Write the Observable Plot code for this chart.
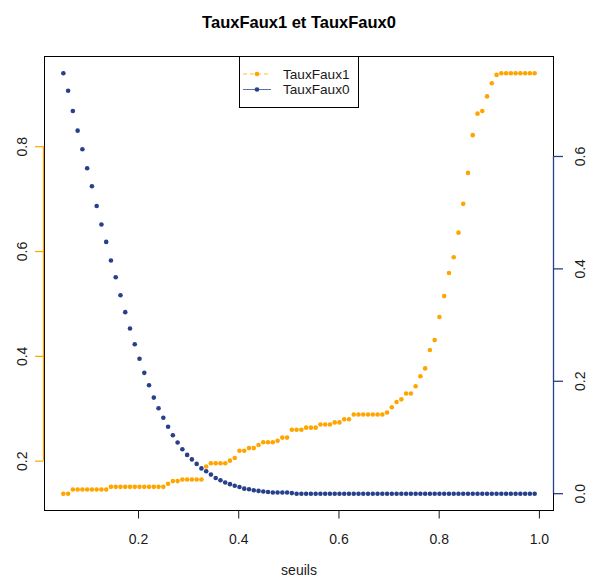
<!DOCTYPE html>
<html>
<head>
<meta charset="utf-8">
<script src="https://cdn.jsdelivr.net/npm/d3@7"></script>
<script src="https://cdn.jsdelivr.net/npm/@observablehq/plot@0.6"></script>
<style>
  html, body { margin: 0; padding: 0; background: #fff; }
  #wrap { position: relative; width: 589px; height: 580px; font-family: "Liberation Sans", Arial, sans-serif; }
  #legend { position: absolute; left: 239px; top: 56px; width: 120px; height: 52px; box-sizing: border-box;
            border: 1px solid #000; background: #fff; }
</style>
</head>
<body>
<div id="wrap"></div>
<script>
const seuils = [
  0.05, 0.0595, 0.069, 0.0785, 0.088, 0.0975, 0.107, 0.1165, 0.126, 0.1355,
  0.145, 0.1545, 0.164, 0.1735, 0.183, 0.1925, 0.202, 0.2115, 0.221, 0.2305,
  0.24, 0.2495, 0.259, 0.2685, 0.278, 0.2875, 0.297, 0.3065, 0.316, 0.3255,
  0.335, 0.3445, 0.354, 0.3635, 0.373, 0.3825, 0.392, 0.4015, 0.411, 0.4205,
  0.43, 0.4395, 0.449, 0.4585, 0.468, 0.4775, 0.487, 0.4965, 0.506, 0.5155,
  0.525, 0.5345, 0.544, 0.5535, 0.563, 0.5725, 0.582, 0.5915, 0.601, 0.6105,
  0.62, 0.6295, 0.639, 0.6485, 0.658, 0.6675, 0.677, 0.6865, 0.696, 0.7055,
  0.715, 0.7245, 0.734, 0.7435, 0.753, 0.7625, 0.772, 0.7815, 0.791, 0.8005,
  0.81, 0.8195, 0.829, 0.8385, 0.848, 0.8575, 0.867, 0.8765, 0.886, 0.8955,
  0.905, 0.9145, 0.924, 0.9335, 0.943, 0.9525, 0.962, 0.9715, 0.981, 0.9905
];
const tauxFaux1 = [
  0.138, 0.138, 0.146, 0.146, 0.146, 0.146, 0.146, 0.146, 0.146, 0.146,
  0.151, 0.151, 0.151, 0.151, 0.151, 0.151, 0.151, 0.151, 0.151, 0.151,
  0.151, 0.151, 0.157, 0.162, 0.162, 0.165, 0.165, 0.165, 0.165, 0.165,
  0.190, 0.196, 0.196, 0.196, 0.196, 0.201, 0.206, 0.220, 0.220, 0.225,
  0.225, 0.231, 0.236, 0.236, 0.236, 0.239, 0.245, 0.245, 0.260, 0.260,
  0.260, 0.264, 0.264, 0.264, 0.270, 0.270, 0.270, 0.274, 0.274, 0.280,
  0.280, 0.289, 0.289, 0.289, 0.289, 0.289, 0.289, 0.289, 0.293, 0.303,
  0.313, 0.318, 0.329, 0.329, 0.343, 0.362, 0.377, 0.412, 0.431, 0.475,
  0.515, 0.559, 0.589, 0.636, 0.691, 0.750, 0.822, 0.863, 0.868, 0.896,
  0.921, 0.937, 0.940, 0.940, 0.940, 0.940, 0.940, 0.940, 0.940, 0.940
];
const tauxFaux0 = [
  0.748, 0.717, 0.681, 0.646, 0.613, 0.579, 0.547, 0.512, 0.479, 0.448,
  0.415, 0.385, 0.353, 0.323, 0.294, 0.266, 0.240, 0.215, 0.193, 0.171,
  0.152, 0.135, 0.119, 0.104, 0.091, 0.079, 0.069, 0.061, 0.053, 0.045,
  0.040, 0.034, 0.028, 0.024, 0.020, 0.017, 0.014, 0.012, 0.009, 0.008,
  0.006, 0.005, 0.004, 0.003, 0.002, 0.002, 0.002, 0.002, 0.001, 0,
  0, 0, 0, 0, 0, 0, 0, 0, 0, 0,
  0, 0, 0, 0, 0, 0, 0, 0, 0, 0,
  0, 0, 0, 0, 0, 0, 0, 0, 0, 0,
  0, 0, 0, 0, 0, 0, 0, 0, 0, 0,
  0, 0, 0, 0, 0, 0, 0, 0, 0, 0
];
const xTicks = [0.2, 0.4, 0.6, 0.8, 1.0];
const leftTicks = [0.2, 0.4, 0.6, 0.8];
const rightTicks = [0.0, 0.2, 0.4, 0.6];
const titleText = "TauxFaux1 et TauxFaux0";
const xLabel = "seuils";
const seriesNames = ["TauxFaux1", "TauxFaux0"];

const ORANGE = "#FFA500";
const NAVY = "#27408B";
const TXT = "#1a1a1a";

// R-style 4% domain expansion
const expand = ([a, b]) => [a - 0.04 * (b - a), b + 0.04 * (b - a)];
const xDom = expand(d3.extent(seuils));
const y1Dom = expand(d3.extent(tauxFaux1));
const y0Dom = expand(d3.extent(tauxFaux0));
const toLeft = d3.scaleLinear().domain(y0Dom).range(y1Dom);

const d1 = seuils.map((s, i) => ({s, v: tauxFaux1[i]}));
const d0 = seuils.map((s, i) => ({s, v: tauxFaux0[i]}));
const f1 = d3.format(".1f");

const chart = Plot.plot({
  width: 589,
  height: 580,
  marginLeft: 44,
  marginRight: 36,
  marginTop: 56,
  marginBottom: 70,
  style: {fontFamily: '"Liberation Sans", Arial, sans-serif', fontSize: "14px", background: "#fff", color: TXT},
  x: {domain: xDom},
  y: {domain: y1Dom},
  marks: [
    Plot.dot(d1, {x: "s", y: "v", r: 2.3, fill: ORANGE, stroke: "none"}),
    Plot.dot(d0, {x: "s", y: d => toLeft(d.v), r: 2.3, fill: NAVY, stroke: "none"}),
    Plot.frame({stroke: "#000"}),
    // left axis (orange)
    Plot.ruleX([xDom[0]], {y1: leftTicks[0], y2: leftTicks[leftTicks.length - 1], stroke: ORANGE, strokeWidth: 1.2, dx: -1}),
    Plot.axisY(leftTicks, {anchor: "left", tickSize: 8, stroke: ORANGE, strokeWidth: 1.2, tickFormat: () => "", label: null, dx: -1}),
    Plot.text(leftTicks, {x: () => xDom[0], y: d => d, text: f1, rotate: -90, dx: -22, fontSize: 14, fill: TXT}),
    // right axis (navy)
    Plot.ruleX([xDom[1]], {y1: toLeft(rightTicks[0]), y2: toLeft(rightTicks[rightTicks.length - 1]), stroke: NAVY, strokeWidth: 1.3}),
    Plot.axisY(rightTicks.map(toLeft), {anchor: "right", tickSize: 9, stroke: NAVY, strokeWidth: 1.3, tickFormat: () => "", label: null}),
    Plot.text(rightTicks, {x: () => xDom[1], y: d => toLeft(d), text: f1, rotate: -90, dx: 27, fontSize: 14, fill: TXT}),
    // x axis
    Plot.axisX(xTicks, {anchor: "bottom", tickSize: 8.5, tickPadding: 15, fontSize: 14, fill: TXT,
      tickFormat: f1, label: null}),
    Plot.text([xLabel], {frameAnchor: "bottom", dy: 64, fontSize: 14, fill: TXT}),
    Plot.text([titleText], {frameAnchor: "top", dy: -40, fontSize: 16.5, fontWeight: "bold", fill: "#000"})
  ]
});

const wrap = document.getElementById("wrap");
wrap.appendChild(chart);

// legend
const leg = document.createElement("div");
leg.id = "legend";
const ns = "http://www.w3.org/2000/svg";
const lsvg = document.createElementNS(ns, "svg");
lsvg.setAttribute("width", 118);
lsvg.setAttribute("height", 50);
const entries = [
  {name: seriesNames[0], color: ORANGE, dash: "4,3", y: 17},
  {name: seriesNames[1], color: NAVY, dash: null, y: 32.5}
];
for (const e of entries) {
  const ln = document.createElementNS(ns, "line");
  ln.setAttribute("x1", 3); ln.setAttribute("x2", 31);
  ln.setAttribute("y1", e.y); ln.setAttribute("y2", e.y);
  ln.setAttribute("stroke", e.color);
  ln.setAttribute("stroke-width", 1);
  ln.setAttribute("stroke-opacity", 0.75);
  if (e.dash) ln.setAttribute("stroke-dasharray", e.dash);
  lsvg.appendChild(ln);
  const c = document.createElementNS(ns, "circle");
  c.setAttribute("cx", 17); c.setAttribute("cy", e.y); c.setAttribute("r", 2.3);
  c.setAttribute("fill", e.color);
  lsvg.appendChild(c);
  const t = document.createElementNS(ns, "text");
  t.setAttribute("x", 43); t.setAttribute("y", e.y);
  t.setAttribute("dy", "0.35em");
  t.setAttribute("font-size", 13.6);
  t.setAttribute("font-family", '"Liberation Sans", Arial, sans-serif');
  t.setAttribute("fill", TXT);
  t.textContent = e.name;
  lsvg.appendChild(t);
}
leg.appendChild(lsvg);
wrap.appendChild(leg);
</script>
</body>
</html>
